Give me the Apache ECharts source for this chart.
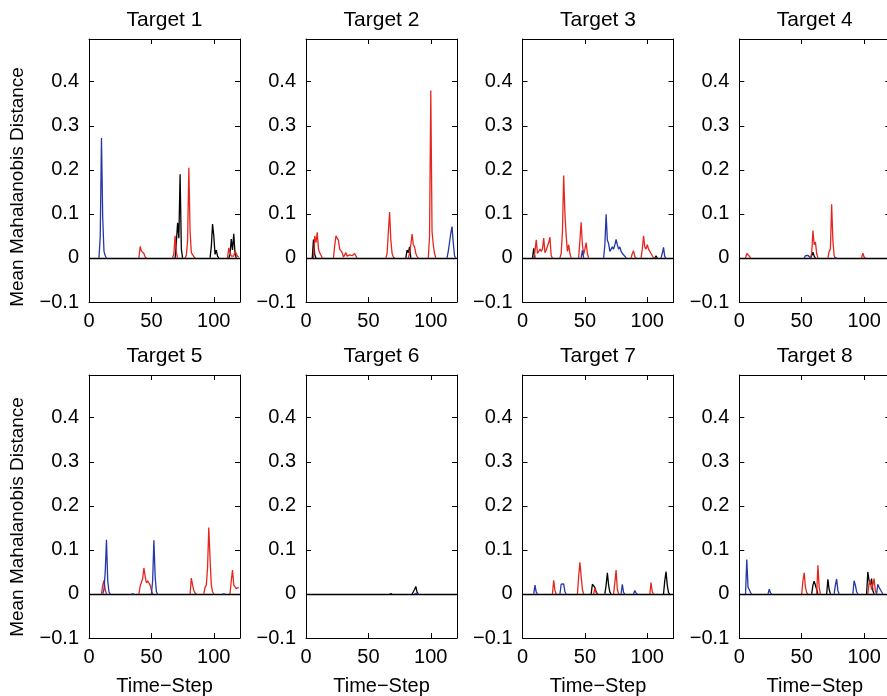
<!DOCTYPE html>
<html><head><meta charset="utf-8">
<script src="https://cdn.jsdelivr.net/npm/echarts@6/dist/echarts.min.js"></script>
<style>html,body{margin:0;padding:0;background:#fff}#c{width:887px;height:696px}</style>
</head><body><div id="c"></div>
<script>
// ---------- data ----------
const titles = ['Target 1','Target 2','Target 3','Target 4','Target 5','Target 6','Target 7','Target 8'];
const xLabel = 'Time\u2212Step';
const yLabel = 'Mean Mahalanobis Distance';
const xTickValues = [0, 50, 100];
const yTickValues = [-0.1, 0, 0.1, 0.2, 0.3, 0.4];
const xMin = 0, xMax = 121;
const yMin = -0.1, yMax = 0.497;

// each series: list of segments [startTimeStep, [values at consecutive time steps]]
const t1Blue  = [[8,[0,0.05,0.272,0.09,0.015,0.005,0]]];
const t1Red   = [[40,[0,0.026,0.016,0.02,0.01,0.002,0]],[67,[0,0.01,0.05,0.012,0]],[77,[0,0.006,0.04,0.205,0.06,0.012,0.012,0.003,0]],[111,[0,0.023,0.02,0.004,0.002,0.004,0.016,0.012,0.004,0.002]]];
const t1Black = [[69,[0,0.035,0.08,0.045,0.19,0.02,0]],[97,[0,0.025,0.077,0.05,0.008,0.018,0.004,0]],[112,[0,0.008,0.043,0.018,0.055,0.01,0]]];

const t2Blue  = [[113,[0,0.015,0.035,0.055,0.071,0.035,0.005,0]]];
const t2Red   = [[6,[0,0.05,0.035,0.058,0.02,0.012,0.006,0]],[22,[0,0.028,0.05,0.052,0.04,0.02,0.016,0.012,0.002,0.004,0.012,0.004,0.002,0.007,0.004,0.005,0.008,0.01,0.004,0]],[64,[0,0.01,0.06,0.104,0.04,0.01,0.002,0]],[82,[0,0.01,0.03,0.054,0.03,0.025,0.01,0.003,0]],[98,[0,0.05,0.38,0.06,0.03,0.01,0]]];
const t2Black = [[5,[0,0.042,0.008,0]],[80,[0,0.018,0.012,0.025,0]]];

const t3Blue  = [[47,[0,0.017,0]],[65,[0,0.03,0.099,0.04,0.033,0.015,0.02,0.025,0.02,0.03,0.042,0.03,0.02,0.025,0.015,0.01,0.013,0.004,0]],[111,[0,0.01,0.024,0.003,0]]];
const t3Red   = [[9,[0,0.015,0.041,0.01,0.012,0.02,0.015,0.02,0.045,0.012,0.018,0.02,0.035,0.047,0.005,0]],[30,[0,0.01,0.06,0.187,0.1,0.05,0.015,0.03,0.01,0]],[45,[0,0.04,0.081,0.03,0.008,0.02,0.035,0.01,0]],[87,[0,0.01,0.016,0.003,0]],[95,[0,0.02,0.05,0.025,0.02,0.03,0.02,0.015,0.01,0.005,0]]];
const t3Black = [[8,[0,0.022,0]],[106,[0,0.005,0]]];

const t4Blue  = [[52,[0,0.005,0.007,0.006,0.003,0]],[76,[0,0.003,0]]];
const t4Red   = [[5,[0,0.01,0.013,0.004,0]],[57,[0,0.01,0.062,0.03,0.036,0.01,0]],[71,[0,0.015,0.02,0.122,0.04,0.005,0]],[98,[0,0.011,0.002,0]]];
const t4Black = [[57,[0,0.005,0.013,0.004,0]]];

const t5Blue  = [[11,[0,0.01,0.05,0.123,0.03,0.005,0]],[34,[0,0.003,0]],[50,[0,0.03,0.122,0.04,0.005,0]],[107,[0,0.004,0]]];
const t5Red   = [[10,[0,0.02,0.031,0.01,0]],[40,[0,0.018,0.02,0.035,0.059,0.04,0.025,0.03,0.032,0.02,0.008,0]],[81,[0,0.036,0.02,0.008,0.002,0]],[92,[0,0.015,0.02,0.06,0.151,0.08,0.02,0.005,0]],[113,[0,0.03,0.054,0.02,0.02,0.012,0.015,0.015]]];
const t5Black = [];

const t6Blue  = [[87,[0,0.002,0.002,0]]];
const t6Red   = [];
const t6Black = [[67,[0,0.003,0]],[85,[0,0.002,0.01,0.017,0.004,0]]];

const t7Blue  = [[9,[0,0.02,0.004,0]],[30,[0,0.022,0.02,0.023,0.005,0]],[79,[0,0.022,0.003,0]],[89,[0,0.008,0.002,0]]];
const t7Red   = [[24,[0,0.031,0.008,0]],[44,[0,0.04,0.072,0.04,0.01,0]],[57,[0,0.013,0.003,0]],[73,[0,0.025,0.054,0.01,0]],[102,[0,0.026,0.004,0]]];
const t7Black = [[55,[0,0.022,0.02,0.015,0.005,0]],[66,[0,0.02,0.048,0.02,0.004,0]],[113,[0,0.03,0.051,0.02,0.003,0]]];

const t8Blue  = [[5,[0,0.078,0.015,0.01,0.003,0]],[23,[0,0.011,0.002,0]],[76,[0,0.02,0.034,0.008,0]],[91,[0,0.03,0.02,0.005,0]],[110,[0,0.022,0.015,0.016,0.005,0]]];
const t8Red   = [[50,[0,0.03,0.048,0.015,0.003,0]],[62,[0,0.065,0.015,0]],[103,[0,0.025,0.03,0.01,0.02,0.035,0.008,0]]];
const t8Black = [[58,[0,0.02,0.029,0.027,0.01,0]],[70,[0,0.033,0.01,0]],[102,[0,0.05,0.03,0.02,0.035,0.008,0]]];

const blueSeries  = [t1Blue,t2Blue,t3Blue,t4Blue,t5Blue,t6Blue,t7Blue,t8Blue];
const redSeries   = [t1Red,t2Red,t3Red,t4Red,t5Red,t6Red,t7Red,t8Red];
const blackSeries = [t1Black,t2Black,t3Black,t4Black,t5Black,t6Black,t7Black,t8Black];

// ---------- layout / style ----------
const FONT = 'Liberation Sans, Arial, Helvetica, sans-serif';
const colLeft = [89, 306, 522.5, 739.3];
const rowTop = [39, 375];
const W = 151, H = 263;
const BLUE = '#2437a6', RED = '#e5261e', BLACK = '#000000';

function toData(segs){
  const out = [];
  segs.forEach((s, k) => {
    if (k > 0) out.push([s[0] - 0.5, '-']);
    s[1].forEach((v, j) => out.push([s[0] + j, v]));
  });
  return out;
}
function yFmt(v){
  if (Math.abs(v) < 1e-9) return '0';
  if (v > 0.45) return '';
  if (v < 0) return '\u2212' + Math.abs(v).toFixed(1);
  return v.toFixed(1);
}
const grid = [], xAxis = [], yAxis = [], series = [], graphic = [];
for (let i = 0; i < 8; i++){
  const r = Math.floor(i / 4), c = i % 4;
  grid.push({left: colLeft[c], top: rowTop[r], width: W, height: H, show: false,
    containLabel: false, outerBoundsMode: 'none'});
  const axLine = {show: true, onZero: false, lineStyle: {color: '#000', width: 1}};
  const tick = {show: true, inside: true, length: 5, lineStyle: {color: '#000', width: 1}};
  const lab = {fontFamily: FONT, fontSize: 20, color: '#000'};
  xAxis.push({gridIndex: i, type: 'value', min: xMin, max: xMax, interval: 50, position: 'bottom',
    axisLine: axLine, axisTick: tick, splitLine: {show: false},
    axisLabel: Object.assign({margin: 9, formatter: v => (xTickValues.indexOf(v) >= 0 ? String(v) : '')}, lab)});
  xAxis.push({gridIndex: i, type: 'value', min: xMin, max: xMax, interval: 50, position: 'top',
    axisLine: axLine, axisTick: tick, splitLine: {show: false}, axisLabel: {show: false}});
  yAxis.push({gridIndex: i, type: 'value', min: yMin, max: yMax, interval: 0.1, position: 'left',
    axisLine: axLine, axisTick: tick, splitLine: {show: false},
    axisLabel: Object.assign({margin: 10, formatter: yFmt}, lab)});
  yAxis.push({gridIndex: i, type: 'value', min: yMin, max: yMax, interval: 0.1, position: 'right',
    axisLine: axLine, axisTick: tick, splitLine: {show: false}, axisLabel: {show: false}});
  const xi = 2 * i, yi = 2 * i;
  const common = {type: 'line', xAxisIndex: xi, yAxisIndex: yi, showSymbol: false, symbol: 'none',
    connectNulls: false, animation: false, silent: true};
  series.push(Object.assign({name: 'zero' + i, data: [], lineStyle: {width: 0},
    markLine: {silent: true, symbol: ['none','none'], label: {show: false}, animation: false,
      lineStyle: {color: BLACK, width: 1.3, type: 'solid'}, data: [{yAxis: 0}]}}, common));
  series.push(Object.assign({name: 'black' + i, data: toData(blackSeries[i]), lineStyle: {color: BLACK, width: 1.3}, z: 3}, common));
  series.push(Object.assign({name: 'red' + i, data: toData(redSeries[i]), lineStyle: {color: RED, width: 1.3}, z: 4}, common));
  series.push(Object.assign({name: 'blue' + i, data: toData(blueSeries[i]), lineStyle: {color: BLUE, width: 1.3}, z: 5}, common));
  graphic.push({type: 'text', x: colLeft[c] + W / 2, y: rowTop[r] - 19,
    style: {text: titles[i], font: '21px ' + FONT, fill: '#000', textAlign: 'center', textVerticalAlign: 'middle'}});
  if (r === 1){
    graphic.push({type: 'text', x: colLeft[c] + W / 2, y: 686,
      style: {text: xLabel, font: '20px ' + FONT, fill: '#000', textAlign: 'center', textVerticalAlign: 'middle'}});
  }
}
[187, 517].forEach(cy => {
  graphic.push({type: 'text', x: 18, y: cy, rotation: Math.PI / 2,
    style: {text: yLabel, font: '19px ' + FONT, fill: '#000', textAlign: 'center', textVerticalAlign: 'middle'}});
});

const chart = echarts.init(document.getElementById('c'), null, {renderer: 'canvas'});
chart.setOption({animation: false, backgroundColor: '#fff', grid, xAxis, yAxis, series, graphic});
</script></body></html>
